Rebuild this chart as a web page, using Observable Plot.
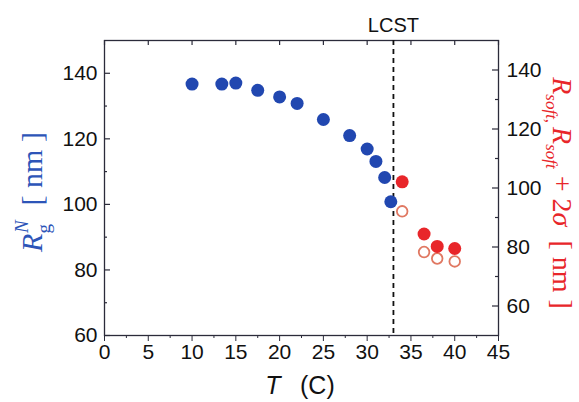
<!DOCTYPE html>
<html>
<head>
<meta charset="utf-8">
<script src="https://cdn.jsdelivr.net/npm/d3@7"></script>
<script src="https://cdn.jsdelivr.net/npm/@observablehq/plot@0.6"></script>
<style>
  html, body { margin: 0; padding: 0; background: #fff; }
  #chart { width: 579px; height: 402px; }
</style>
</head>
<body>
<div id="chart"></div>
<script>
// ---- data ----
const blueT = [10, 13.4, 15, 17.5, 20, 22, 25, 28, 30, 31, 32, 32.7];
const blueRg = [136.7, 136.7, 137, 134.8, 132.8, 130.8, 125.9, 121, 116.9, 113.1, 108.2, 100.8];
const redT = [34, 36.5, 38, 40];
const redFilled = [102.1, 84.4, 80.2, 79.5];
const redOpen = [92.1, 78.3, 76.1, 75.1];
const lcstT = [33];
const xMajor = [0, 5, 10, 15, 20, 25, 30, 35, 40, 45];
const xMinor = [2.5, 7.5, 12.5, 17.5, 22.5, 27.5, 32.5, 37.5, 42.5];
const leftMajor = [60, 80, 100, 120, 140];
const leftMinor = [70, 90, 110, 130];
const rightMajor = [60, 80, 100, 120, 140];
const rightMinor = [70, 90, 110, 130];
const leftDomain = [60, 150];
const rightDomain = [50, 150];

// map right-axis values into left-axis coordinates
const toLeft = v => leftDomain[0] + (v - rightDomain[0]) * (leftDomain[1] - leftDomain[0]) / (rightDomain[1] - rightDomain[0]);
const fromLeft = y => Math.round(rightDomain[0] + (y - leftDomain[0]) * (rightDomain[1] - rightDomain[0]) / (leftDomain[1] - leftDomain[0]));

const blue = blueT.map((t, i) => ({T: t, v: blueRg[i]}));
const filled = redT.map((t, i) => ({T: t, v: toLeft(redFilled[i])}));
const open = redT.map((t, i) => ({T: t, v: toLeft(redOpen[i])}));

const W = 579, H = 402, mL = 104, mR = 81, mT = 40, mB = 67;
const pw = W - mL - mR, ph = H - mT - mB;
const frameColor = "#2b2b3a";
const font = "Liberation Sans, Arial, sans-serif";

const chart = Plot.plot({
  width: W, height: H,
  marginLeft: mL, marginRight: mR, marginTop: mT, marginBottom: mB,
  style: {fontFamily: font, background: "#fff", overflow: "visible"},
  x: {domain: [0, 45]},
  y: {domain: leftDomain},
  marks: [
    // bottom axis (outward ticks)
    Plot.axisX({anchor: "bottom", ticks: xMajor, tickSize: 6, tickPadding: 3, fontSize: 21, label: null, color: "#111", stroke: frameColor}),
    Plot.axisX({anchor: "bottom", ticks: xMinor, tickSize: 3, tickFormat: () => "", label: null, stroke: frameColor}),
    // left axis labels
    Plot.axisY({anchor: "left", ticks: leftMajor, tickSize: 0, tickPadding: 7, fontSize: 21, label: null, color: "#111"}),
    // right axis labels
    Plot.axisY({anchor: "right", ticks: rightMajor.map(toLeft), tickFormat: fromLeft, tickSize: 0, tickPadding: 8, fontSize: 21, label: null, color: "#111"}),
    // inward ticks: left
    Plot.tickY(leftMajor, {y: d => d, insetRight: pw - 6, stroke: frameColor, strokeWidth: 1.2}),
    Plot.tickY(leftMinor, {y: d => d, insetRight: pw - 3, stroke: frameColor, strokeWidth: 1.2}),
    // inward ticks: right
    Plot.tickY(rightMajor, {y: d => toLeft(d), insetLeft: pw - 6, stroke: frameColor, strokeWidth: 1.2}),
    Plot.tickY(rightMinor, {y: d => toLeft(d), insetLeft: pw - 3, stroke: frameColor, strokeWidth: 1.2}),
    // inward ticks: top
    Plot.tickX(xMajor, {x: d => d, insetBottom: ph - 5, stroke: frameColor, strokeWidth: 1.2}),
    Plot.frame({stroke: frameColor, strokeWidth: 1.3}),
    // LCST line
    Plot.ruleX(lcstT, {x: d => d, stroke: "#111", strokeWidth: 1.8, strokeDasharray: "5,4"}),
    Plot.text(lcstT, {x: d => d, frameAnchor: "top", lineAnchor: "bottom", dy: -9, text: () => "LCST", fontSize: 20, fill: "#111"}),
    // data
    Plot.dot(blue, {x: "T", y: "v", r: 6.5, fill: "#2147b0", stroke: "none"}),
    Plot.dot(open, {x: "T", y: "v", r: 5.3, fill: "white", stroke: "#e07862", strokeWidth: 1.8}),
    Plot.dot(filled, {x: "T", y: "v", r: 6.5, fill: "#e8262a", stroke: "none"})
  ]
});

document.getElementById("chart").appendChild(chart);

// axis titles with rich text
const svg = d3.select(chart);
const serif = "Liberation Serif, Times New Roman, serif";

// x label: T (C)
const xl = svg.append("text")
  .attr("x", 300).attr("y", 394)
  .attr("text-anchor", "middle")
  .attr("font-family", font).attr("font-size", 25).attr("fill", "#111");
xl.append("tspan").attr("font-style", "italic").text("T");
xl.append("tspan").text("\u2002 (C)");

// left label: R_g^N [ nm ]
const blueLab = "#2d55b8";
const ll = svg.append("text")
  .attr("transform", "translate(42,192) rotate(-90)")
  .attr("text-anchor", "middle")
  .attr("font-family", serif).attr("font-size", 30).attr("fill", blueLab);
ll.append("tspan").attr("font-style", "italic").text("R");
ll.append("tspan").attr("font-size", 19).attr("dy", 8).text("g");
ll.append("tspan").attr("font-size", 19).attr("font-style", "italic").attr("dx", -9).attr("dy", -22).text("N");
ll.append("tspan").attr("dy", 14).text("\u2002[ nm ]");

// right label: R_soft, R_soft + 2σ [ nm ]
const redLab = "#e8262a";
const rl = svg.append("text")
  .attr("transform", "translate(553,193) rotate(90)")
  .attr("text-anchor", "middle")
  .attr("font-family", serif).attr("font-size", 28).attr("fill", redLab);
rl.append("tspan").attr("font-style", "italic").text("R");
rl.append("tspan").attr("font-size", 17).attr("font-style", "italic").attr("dy", 7).text("soft");
rl.append("tspan").attr("font-size", 17).text(",");
rl.append("tspan").attr("font-style", "italic").attr("dy", -7).attr("dx", 4).text("R");
rl.append("tspan").attr("font-size", 17).attr("font-style", "italic").attr("dy", 7).text("soft");
rl.append("tspan").attr("dy", -7).text(" + 2");
rl.append("tspan").attr("font-style", "italic").text("\u03c3");
rl.append("tspan").text("\u2002[ nm ]");
</script>
</body>
</html>
